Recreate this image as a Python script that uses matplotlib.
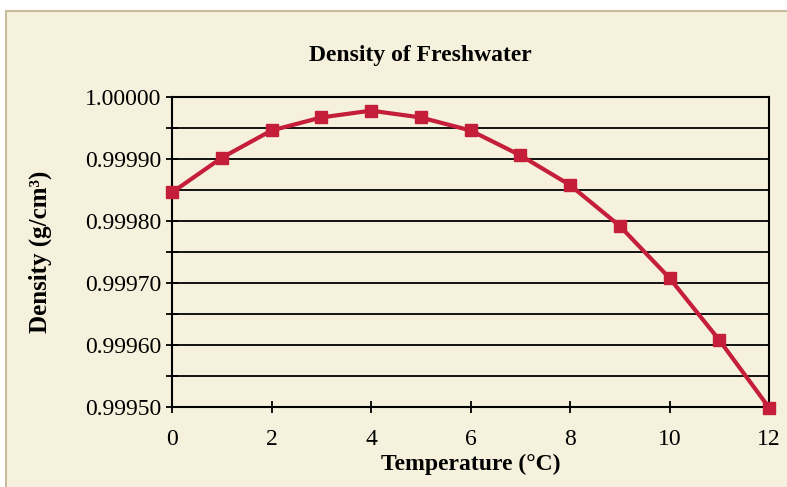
import numpy as np
import matplotlib.pyplot as plt
from matplotlib.patches import Rectangle
from matplotlib.ticker import MultipleLocator, FormatStrFormatter

# Data
temperature = [0, 1, 2, 3, 4, 5, 6, 7, 8, 9, 10, 11, 12]
density = [0.999846, 0.999902, 0.999946, 0.999967, 0.999978, 0.999967, 0.999946,
           0.999906, 0.999858, 0.999792, 0.999708, 0.999608, 0.999499]

bg = '#F5F1DC'
red = '#C41E3A'

plt.rcParams['font.family'] = ['Liberation Serif', 'DejaVu Serif']

fig = plt.figure(figsize=(7.87, 4.87), dpi=100)
fig.patch.set_facecolor('white')

# cream panel with tan border
fig.patches.append(Rectangle((6 / 787, -0.05), 1.1, 1 - 11 / 487 + 0.05,
                             transform=fig.transFigure, facecolor=bg,
                             edgecolor='#C9BC9C', lw=1.5, zorder=-1))

ax = fig.add_axes([172 / 787, 1 - 407 / 487, 597 / 787, 310 / 487])
ax.set_facecolor(bg)

ax.plot(temperature, density, color=red, lw=3, marker='s', markersize=9,
        clip_on=False, zorder=5)

ax.set_xlim(0, 12)
ax.set_ylim(0.9995, 1.0)

ax.xaxis.set_major_locator(MultipleLocator(2))
ax.yaxis.set_major_locator(MultipleLocator(0.0001))
ax.yaxis.set_minor_locator(MultipleLocator(0.00005))
ax.yaxis.set_major_formatter(FormatStrFormatter('%.5f'))

ax.grid(axis='y', which='both', color='black', lw=1.3)
ax.set_axisbelow(True)

for s in ax.spines.values():
    s.set_color('black')
    s.set_linewidth(1.5)

ax.tick_params(axis='both', which='both', direction='inout', length=9, width=1.3,
               labelsize=17, colors='black')
ax.tick_params(axis='y', which='minor', length=9)
ax.tick_params(axis='x', pad=11)
ax.tick_params(axis='y', pad=3)

fig.text(420 / 787, 1 - 55 / 487, 'Density of Freshwater', fontsize=17,
         fontweight='bold', ha='center', va='center')
ax.set_xlabel('Temperature (°C)', fontsize=17, fontweight='bold', labelpad=3)
ax.set_ylabel('Density (g/cm³)', fontsize=18, fontweight='bold', labelpad=24)

fig.savefig('out.png', dpi=100, facecolor=fig.get_facecolor())
